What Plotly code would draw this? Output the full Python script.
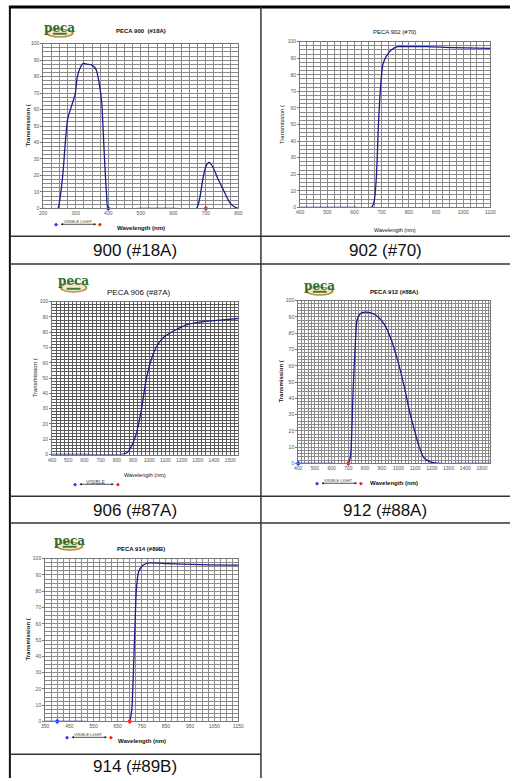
import plotly.graph_objects as go

W, H = 516, 781

# ---------------- data ----------------
wl_900 = [200, 245, 250, 260, 275, 290, 298, 305, 315, 323, 335, 350, 363, 372, 380, 385, 390, 395, 400,
          500, 600, 671, 681, 691, 701, 710, 722, 737, 752, 772, 787, 800]
tr_900 = [0, 0, 4, 20, 54, 64, 69, 80, 86, 88, 87.5, 87, 84, 76, 64, 44, 24, 8, 0,
          0, 0, 0, 6, 18, 26, 28, 25, 18, 12, 4, 1, 0]

wl_902 = [400, 500, 600, 662, 672, 680, 689, 696, 704, 716, 735, 758, 795, 867, 963, 1100]
tr_902 = [0, 0, 0, 0, 3.4, 17, 53, 73, 86, 91, 95, 97, 97, 97, 96.4, 96]

wl_906 = [400, 600, 830, 860, 890, 921, 951, 981, 1012, 1042, 1092, 1153, 1233, 1334, 1435, 1550]
tr_906 = [0, 0, 0, 1, 5.4, 14, 29, 49, 62, 70, 77, 81, 85, 87, 88, 89]

wl_912 = [400, 600, 699, 713, 728, 742, 752, 771, 800, 840, 879, 918, 957, 996, 1035, 1064, 1094,
          1123, 1152, 1191, 1250, 1400, 1550]
tr_912 = [0, 0, 0, 4.5, 43, 74, 88, 92, 93, 92.3, 90, 85, 76, 63, 47, 33, 21, 10.6, 3.5, 1, 0, 0, 0]

wl_914 = [350, 500, 697, 708, 714, 721, 728, 737, 755, 782, 856, 991, 1150]
tr_914 = [0, 0, 0, 6.5, 25, 55, 82, 92, 96, 97.4, 97, 96.3, 96]

visible_wl = [400, 700]
visible_tr = [0, 0]

chart_titles = ["PECA 900  (#18A)", "PECA 902 (#70)", "PECA 906 (#87A)", "PECA 912 (#88A)", "PECA 914 (#89B)"]
captions = ["900 (#18A)", "902 (#70)", "906 (#87A)", "912 (#88A)", "914 (#89B)"]
y_title = "Transmission ("
x_title = "Wavelength (nm)"

# ---------------- helpers ----------------
def px(x):
    return x / W

def py(y):
    return 1 - y / H

def ann(x, y, text, **kw):
    d = dict(x=px(x), y=py(y), xref="paper", yref="paper", text=text, showarrow=False,
             xanchor="center", yanchor="middle")
    d.update(kw)
    return d

charts = [
    dict(wl=wl_900, tr=tr_900, xr=[200, 800], x0=200, xminor=25, yminor=2.5, dx=(40, 239), dy=(41, 207),
         grid="#8a8a8a", markers=True, title_xy=(140, 28), tfont=6, tbold=True,
         logo=(43, 20, 71, 35), ytx=25, xty=227, vis=(53, 98, 223, "VISIBLE LIGHT")),
    dict(wl=wl_902, tr=tr_902, xr=[400, 1100], x0=400, xminor=25, yminor=2.5, dx=(302, 496), dy=(39, 206),
         grid="#8a8a8a", markers=False, title_xy=(398, 29), tfont=6, tbold=False,
         logo=None, ytx=283, xty=229, vis=None),
    dict(wl=wl_906, tr=tr_906, xr=[400, 1550], x0=400, xminor=25, yminor=2, dx=(49, 239), dy=(301, 455),
         grid="#5a5a5a", markers=False, title_xy=(137, 292), tfont=8, tbold=False,
         logo=(57, 275, 85, 292), ytx=32, xty=476, vis=(72, 116, 485, "VISIBLE")),
    dict(wl=wl_912, tr=tr_912, xr=[400, 1550], x0=400, xminor=20, yminor=2, dx=(300, 496), dy=(300, 464),
         grid="#8a8a8a", markers=True, title_xy=(398, 291), tfont=6, tbold=True,
         logo=(308, 280, 336, 295), ytx=283, xty=484, vis=(319, 364, 484, "VISIBLE LIGHT")),
    dict(wl=wl_914, tr=tr_914, xr=[350, 1150], x0=350, xminor=25, yminor=2.5, dx=(42, 239), dy=(560, 724),
         grid="#8a8a8a", markers=True, title_xy=(140, 550), tfont=6, tbold=True,
         logo=(53, 537, 81, 552), ytx=25, xty=744, vis=(64, 109, 740, "VISIBLE LIGHT")),
]

fig = go.Figure()
shapes = []
annotations = []
layout = {}

for i, c in enumerate(charts):
    n = i + 1
    xa = "xaxis" if n == 1 else f"xaxis{n}"
    ya = "yaxis" if n == 1 else f"yaxis{n}"
    xref = "x" if n == 1 else f"x{n}"
    yref = "y" if n == 1 else f"y{n}"

    fig.add_trace(go.Scatter(x=c["wl"], y=c["tr"], mode="lines", xaxis=xref, yaxis=yref,
                             line=dict(color="#1c1c8e", width=1.3, shape="spline", smoothing=0.6),
                             showlegend=False, hoverinfo="skip", cliponaxis=True))
    if c["markers"]:
        fig.add_trace(go.Scatter(x=visible_wl, y=visible_tr, mode="markers", xaxis=xref, yaxis=yref,
                                 marker=dict(color=["#1a3cff", "#ff2020"], size=4, symbol="diamond"),
                                 showlegend=False, hoverinfo="skip", cliponaxis=False))

    layout[xa] = dict(domain=[px(c["dx"][0]), px(c["dx"][1])], range=c["xr"], dtick=100, tick0=c["x0"],
                      anchor=yref, showgrid=True, gridcolor=c["grid"], gridwidth=0.6,
                      minor=dict(dtick=c["xminor"], tick0=c["x0"], showgrid=True, gridcolor=c["grid"],
                                 gridwidth=0.6),
                      showline=True, mirror=True, linecolor="#777", linewidth=1,
                      ticks="", tickfont=dict(size=5, color="#555", family="Liberation Sans"),
                      zeroline=False, fixedrange=True)
    layout[ya] = dict(domain=[py(c["dy"][1]), py(c["dy"][0])], range=[0, 100], dtick=10,
                      anchor=xref, showgrid=True, gridcolor=c["grid"], gridwidth=0.6,
                      minor=dict(dtick=c["yminor"], showgrid=True, gridcolor=c["grid"], gridwidth=0.6),
                      showline=True, mirror=True, linecolor="#777", linewidth=1,
                      ticks="outside", ticklen=2, tickcolor="#777",
                      tickfont=dict(size=5, color="#555", family="Liberation Sans"),
                      zeroline=False, fixedrange=True)

    # chart title
    t = chart_titles[i]
    annotations.append(ann(c["title_xy"][0], c["title_xy"][1], f"<b>{t}</b>" if c["tbold"] else t,
                           font=dict(size=c["tfont"], color="#111", family="Liberation Sans")))
    # axis titles
    cy = (c["dy"][0] + c["dy"][1]) / 2
    annotations.append(ann(c["ytx"], cy, f"<b>{y_title}</b>" if c["tbold"] else y_title, textangle=-90,
                           font=dict(size=6, color="#111", family="Liberation Sans")))
    cx = (c["dx"][0] + c["dx"][1]) / 2
    annotations.append(ann(cx, c["xty"], f"<b>{x_title}</b>" if c["tbold"] else x_title,
                           font=dict(size=6 if c["tbold"] else 5.5, color="#111", family="Liberation Sans")))

    # logo
    if c["logo"]:
        x0, y0, x1, y1 = c["logo"]
        ym = y0 + (y1 - y0) * 0.4
        shapes.append(dict(type="circle", xref="paper", yref="paper", x0=px(x0), x1=px(x1),
                           y0=py(y1), y1=py(ym), fillcolor="#b58d45", line=dict(width=0)))
        shapes.append(dict(type="circle", xref="paper", yref="paper", x0=px(x0 + 2), x1=px(x1 - 2),
                           y0=py(y1 - 1.5), y1=py(ym + 1), fillcolor="#f1e9c8", line=dict(width=0)))
        shapes.append(dict(type="rect", xref="paper", yref="paper", x0=px(x0 + 7), x1=px(x1 - 7),
                           y0=py(y1 - 3), y1=py(y1 - 5), fillcolor="#3f7a3a", line=dict(width=0)))
        annotations.append(ann((x0 + x1) / 2, y0 + (y1 - y0) * 0.33, "<b>peca</b>",
                               font=dict(size=12, color="#2f6d2f", family="DejaVu Serif")))

    # visible light indicator
    if c["vis"]:
        bx, rx, vy, vt = c["vis"]
        annotations.append(ann(bx, vy, "◆", font=dict(size=5, color="#1a3cff")))
        annotations.append(ann(rx, vy, "◆", font=dict(size=5, color="#ff2020")))
        annotations.append(dict(x=px(rx - 4), y=py(vy), xref="paper", yref="paper",
                                ax=-(rx - bx - 8), ay=0, axref="pixel", ayref="pixel",
                                text="", showarrow=True, arrowside="end+start",
                                arrowhead=2, startarrowhead=2, arrowsize=0.6, arrowwidth=0.8, arrowcolor="#222"))
        annotations.append(ann((bx + rx) / 2, vy - 2.5, vt,
                               font=dict(size=4 if vt != "VISIBLE" else 5, color="#444", family="Liberation Sans")))

# table captions
cap_pos = [(134, 249), (389, 249), (134, 511), (389, 511), (134, 769)]
for t, (x, y) in zip(captions, cap_pos):
    annotations.append(ann(x, y, t, font=dict(size=17, color="#111", family="Liberation Sans")))

# table lines
def hline(y, x0, x1, color="#333", width=1.5):
    shapes.append(dict(type="line", xref="paper", yref="paper", x0=px(x0), x1=px(x1), y0=py(y), y1=py(y),
                       line=dict(color=color, width=width), layer="above"))

def vline(x, y0, y1, color="#333", width=1.5):
    shapes.append(dict(type="line", xref="paper", yref="paper", x0=px(x), x1=px(x), y0=py(y0), y1=py(y1),
                       line=dict(color=color, width=width), layer="above"))

hline(4, 5, 516, "#000", 3)
vline(6, 3, 781, "#111", 2)
vline(262, 4, 781, "#333", 1.5)
for y in [235, 263, 497, 524]:
    hline(y, 6, 516)
hline(757, 6, 262)

fig.update_layout(width=W, height=H, margin=dict(l=0, r=0, t=0, b=0), paper_bgcolor="white",
                  plot_bgcolor="white", shapes=shapes, annotations=annotations, showlegend=False, **layout)

fig.write_html("out.html", config={"displayModeBar": False},
               post_script="document.body.style.margin='0';document.body.style.padding='0';"
                           "document.body.style.overflow='hidden';")
